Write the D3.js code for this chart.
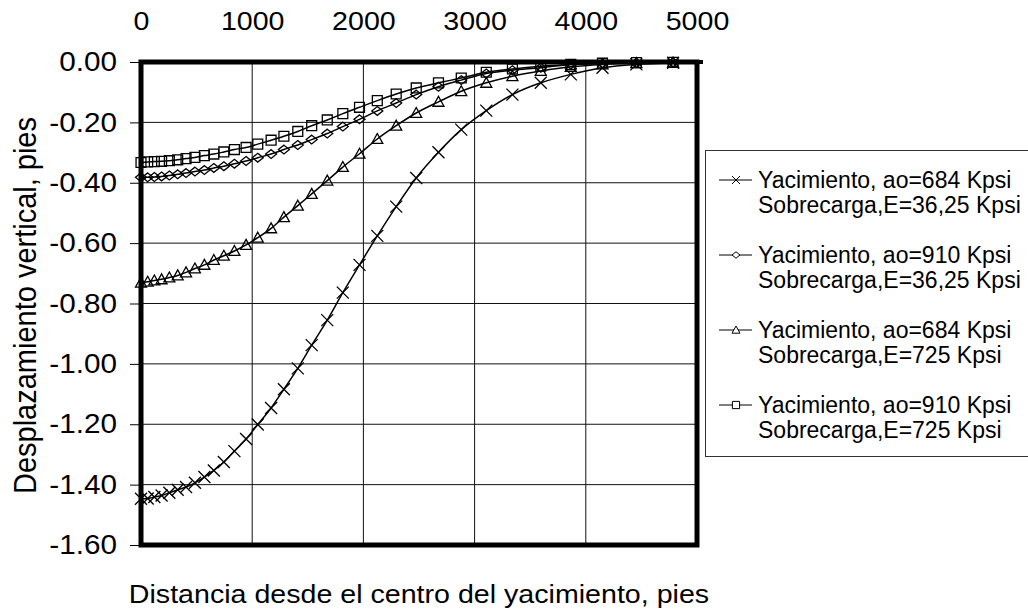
<!DOCTYPE html>
<html lang="es">
<head>
  <meta charset="UTF-8">
  <title>Desplazamiento vertical</title>
  <script src="https://d3js.org/d3.v7.min.js"></script>
  <style type="text/css">
    body { margin: 0; background: white; }
    text { font-family: "Liberation Sans", Arial, sans-serif; fill: black; }
    .axis path { display: none; }
    .axis-x text { font-size: 26px; }
    .axis-y text { font-size: 27px; }
    .legend text { font-size: 23px; }
  </style>
</head>
<body>
  <svg width="1028" height="611"></svg>
  <script type="text/javascript">
    // Data
    const distances = [0, 60, 120, 185, 255, 330, 405, 485, 570, 655, 745, 840, 945, 1050, 1170, 1285,
      1410, 1535, 1675, 1815, 1965, 2125, 2295, 2475, 2675, 2880, 3105, 3340, 3595, 3865, 4150, 4455, 4785];

    const ao684_E3625 = [-1.447, -1.446, -1.441, -1.436, -1.427, -1.417, -1.408, -1.394, -1.375, -1.353,
      -1.325, -1.289, -1.249, -1.201, -1.146, -1.084, -1.015, -0.938, -0.855, -0.764, -0.672, -0.576,
      -0.479, -0.384, -0.299, -0.224, -0.161, -0.108, -0.069, -0.041, -0.019, -0.008, -0.003];

    const ao910_E3625 = [-0.382, -0.382, -0.381, -0.379, -0.376, -0.372, -0.368, -0.363, -0.358, -0.351,
      -0.345, -0.337, -0.328, -0.317, -0.305, -0.290, -0.275, -0.257, -0.237, -0.214, -0.190, -0.162,
      -0.136, -0.108, -0.082, -0.060, -0.038, -0.027, -0.019, -0.008, -0.005, -0.003, -0.001];

    const ao684_E725 = [-0.731, -0.728, -0.724, -0.720, -0.714, -0.707, -0.697, -0.684, -0.672, -0.656,
      -0.642, -0.626, -0.606, -0.582, -0.551, -0.514, -0.476, -0.437, -0.393, -0.348, -0.304, -0.255,
      -0.211, -0.169, -0.132, -0.097, -0.069, -0.047, -0.030, -0.016, -0.008, -0.004, -0.002];

    const ao910_E725 = [-0.333, -0.331, -0.330, -0.329, -0.327, -0.324, -0.320, -0.316, -0.310, -0.305,
      -0.298, -0.290, -0.283, -0.272, -0.259, -0.246, -0.230, -0.211, -0.192, -0.171, -0.150, -0.128,
      -0.106, -0.086, -0.069, -0.053, -0.034, -0.023, -0.014, -0.008, -0.004, -0.002, -0.001];

    const seriesLabels = [
      ["Yacimiento, ao=684 Kpsi", "Sobrecarga,E=36,25 Kpsi"],
      ["Yacimiento, ao=910 Kpsi", "Sobrecarga,E=36,25 Kpsi"],
      ["Yacimiento, ao=684 Kpsi", "Sobrecarga,E=725 Kpsi"],
      ["Yacimiento, ao=910 Kpsi", "Sobrecarga,E=725 Kpsi"]
    ];
    const seriesMarkers = ["cross", "diamond", "triangle", "square"];

    const xTicks = [0, 1000, 2000, 3000, 4000, 5000];
    const yTicks = [0, -0.2, -0.4, -0.6, -0.8, -1.0, -1.2, -1.4, -1.6];

    const xTitle = "Distancia desde el centro del yacimiento, pies";
    const yTitle = "Desplazamiento vertical, pies";

    let svg = d3.select("svg");
    let plot = { left: 141, right: 697, top: 62, bottom: 545 };

    let x = d3.scaleLinear().domain([0, 5000]).range([plot.left, plot.right]);
    let y = d3.scaleLinear().domain([0, -1.6]).range([plot.top, plot.bottom]);

    let series = [ao684_E3625, ao910_E3625, ao684_E725, ao910_E725].map((vals, i) => ({
      marker: seriesMarkers[i],
      label: seriesLabels[i],
      points: distances.map((d, j) => ({ x: d, y: vals[j] }))
    }));

    // the source text is a little wider than the font, stretch it sideways
    function widen(sel, k) {
      sel.each(function () {
        let w = this.getComputedTextLength();
        d3.select(this).attr("textLength", w * k).attr("lengthAdjust", "spacingAndGlyphs");
      });
    }

    // gridlines
    svg.append("g")
      .selectAll("line")
      .data(yTicks.slice(1, -1))
      .enter().append("line")
      .attr("x1", plot.left).attr("x2", plot.right)
      .attr("y1", d => y(d)).attr("y2", d => y(d))
      .attr("stroke", "#111").attr("stroke-width", 1);

    svg.append("g")
      .selectAll("line")
      .data(xTicks.slice(1, -1))
      .enter().append("line")
      .attr("x1", d => x(d)).attr("x2", d => x(d))
      .attr("y1", plot.top).attr("y2", plot.bottom)
      .attr("stroke", "#111").attr("stroke-width", 1);

    // axes: x labels on top, y labels left
    let xAxis = svg.append("g")
      .attr("class", "axis axis-x")
      .attr("transform", "translate(0,0)")
      .call(d3.axisBottom(x).tickValues(xTicks).tickSize(0).tickPadding(0).tickFormat(d3.format("d")));
    xAxis.selectAll("text").attr("y", 30).attr("dy", "0");
    widen(xAxis.selectAll("text"), 1.1);

    let yAxis = svg.append("g")
      .attr("class", "axis axis-y")
      .attr("transform", "translate(" + plot.left + ",0)")
      .call(d3.axisLeft(y).tickValues(yTicks).tickSize(11).tickPadding(13).tickFormat(d => d.toFixed(2)));
    yAxis.selectAll(".tick line").attr("stroke", "#000").attr("stroke-width", 1);
    widen(yAxis.selectAll("text"), 1.1);

    // frame
    svg.append("rect")
      .attr("x", plot.left).attr("y", plot.top)
      .attr("width", plot.right - plot.left).attr("height", plot.bottom - plot.top)
      .attr("fill", "none").attr("stroke", "#000").attr("stroke-width", 5);
    svg.append("line")
      .attr("x1", plot.right).attr("x2", plot.right + 6)
      .attr("y1", y(0)).attr("y2", y(0))
      .attr("stroke", "#000").attr("stroke-width", 4);

    // titles
    let xt = svg.append("text")
      .attr("x", (plot.left + plot.right) / 2).attr("y", 603)
      .attr("text-anchor", "middle").style("font-size", "26px")
      .text(xTitle);
    widen(xt, 1.1);

    svg.append("text")
      .attr("transform", "translate(25," + ((plot.top + plot.bottom) / 2 + 2) + ") scale(1.1,1) rotate(-90)")
      .attr("text-anchor", "middle").attr("dy", "0.35em").style("font-size", "29px")
      .text(yTitle);

    // markers
    function markerPath(type, s) {
      let h = s / 2;
      if (type === "cross") return "M" + (-h) + "," + (-h) + "L" + h + "," + h + "M" + (-h) + "," + h + "L" + h + "," + (-h);
      if (type === "diamond") return "M0," + (-h * 0.8) + "L" + h + ",0L0," + (h * 0.8) + "L" + (-h) + ",0Z";
      if (type === "triangle") return "M0," + (-h) + "L" + h + "," + (h * 0.8) + "L" + (-h) + "," + (h * 0.8) + "Z";
      return "M" + (-h * 0.9) + "," + (-h * 0.9) + "h" + (h * 1.8) + "v" + (h * 1.8) + "h" + (-h * 1.8) + "Z";
    }

    let line = d3.line().x(p => x(p.x)).y(p => y(p.y)).curve(d3.curveMonotoneX);

    let seriesG = svg.append("g").selectAll("g")
      .data(series)
      .enter().append("g");

    seriesG.append("path")
      .attr("d", s => line(s.points))
      .attr("fill", "none").attr("stroke", "#000").attr("stroke-width", 1.5);

    seriesG.each(function (s) {
      d3.select(this).selectAll(".mk")
        .data(s.points)
        .enter().append("path")
        .attr("class", "mk")
        .attr("transform", p => "translate(" + x(p.x) + "," + y(p.y) + ")")
        .attr("d", markerPath(s.marker, s.marker === "cross" ? 12 : 11))
        .attr("fill", "none").attr("stroke", "#000").attr("stroke-width", 1.3);
    });

    // legend
    let legend = svg.append("g").attr("class", "legend");
    legend.append("rect")
      .attr("x", 705.5).attr("y", 150.5).attr("width", 340).attr("height", 306)
      .attr("fill", "white").attr("stroke", "#333").attr("stroke-width", 1);

    let item = legend.selectAll("g.item")
      .data(series)
      .enter().append("g")
      .attr("class", "item")
      .attr("transform", (s, i) => "translate(0," + (180 + i * 75) + ")");

    item.append("line")
      .attr("x1", 719).attr("x2", 752).attr("y1", 0).attr("y2", 0)
      .attr("stroke", "#000").attr("stroke-width", 1);
    item.append("path")
      .attr("transform", "translate(736,0)")
      .attr("d", s => markerPath(s.marker, 8))
      .attr("fill", "white").attr("stroke", "#000").attr("stroke-width", 1);
    item.append("text")
      .attr("x", 758).attr("y", 0).attr("dy", "0.35em")
      .text(s => s.label[0]);
    item.append("text")
      .attr("x", 758).attr("y", 25).attr("dy", "0.35em")
      .text(s => s.label[1]);
  </script>
</body>
</html>
